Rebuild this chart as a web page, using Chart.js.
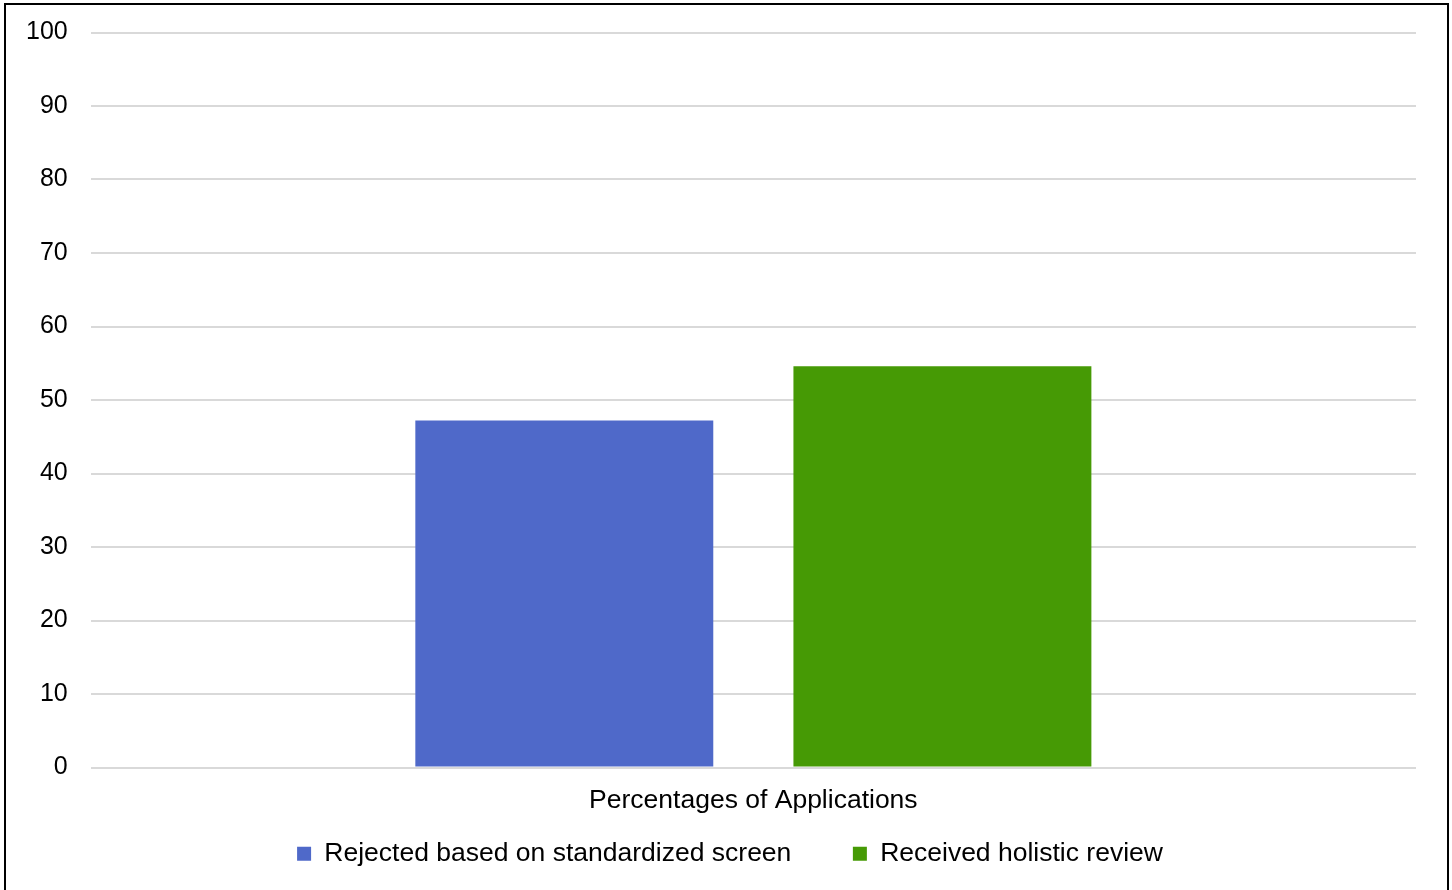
<!DOCTYPE html>
<html>
<head>
<meta charset="utf-8">
<script src="https://cdn.jsdelivr.net/npm/chart.js@4"></script>
<style>
  body { margin: 0; background: #fff; overflow: hidden; }
  #box {
    position: absolute; left: 4px; top: 3px;
    width: 1441px; height: 890px;
    border: 2px solid #000; background: #fff;
    overflow: hidden;
  }
  #chart { display: block; margin-top: -8px; }
</style>
</head>
<body>
<div id="box"><canvas id="chart" width="1441" height="893"></canvas></div>
<script>
// data
var categories = ['Percentages of Applications'];
var seriesNames = ['Rejected based on standardized screen', 'Received holistic review'];
var rejected = [47.2];
var holistic = [54.6];
var yTicks = [0, 10, 20, 30, 40, 50, 60, 70, 80, 90, 100];

Chart.defaults.font.family = 'Arial, "Liberation Sans", sans-serif';
Chart.defaults.font.size = 26.5;
Chart.defaults.color = '#000';

let ctx = document.getElementById('chart').getContext('2d');

// nudge the legend a bit to the right, the original is not centred on the canvas
let legendShift = {
    id: 'legendShift'
    , afterLayout: function (chart) {
        chart.legend.left += 41;
    }
};

let barChart = new Chart(ctx, {
    type: 'bar'
    , data: {
        labels: categories
        , datasets: [{
            label: seriesNames[0]
            , data: rejected
            , backgroundColor: '#4F69C9'
        }, {
            label: seriesNames[1]
            , data: holistic
            , backgroundColor: '#469A05'
        }]
    }
    , options: {
        responsive: false
        , animation: false
        , categoryPercentage: 0.5706
        , barPercentage: 0.788
        , layout: {
            padding: { top: 0, right: 31, left: -3, bottom: 13 }
        }
        , plugins: {
            tooltip: { enabled: false }
            , legend: {
                position: 'bottom'
                , labels: {
                    boxWidth: 14
                    , boxHeight: 14
                    , padding: 10
                    , generateLabels: function (chart) {
                        var items = Chart.defaults.plugins.legend.labels.generateLabels(chart);
                        // extra space after the first entry, like the original
                        items[0].text = items[0].text + '       ';
                        return items;
                    }
                }
            }
        }
        , scales: {
            x: {
                grid: { display: false }
                , border: { display: false }
                , ticks: { padding: 9 }
                , afterFit: function (axis) { axis.height = 63; }
            }
            , y: {
                min: 0
                , max: 100
                , afterBuildTicks: function (axis) {
                    axis.ticks = yTicks.map(function (v) { return { value: v }; });
                }
                , grid: { color: '#D9D9D9', lineWidth: 2, drawTicks: false }
                , border: { display: false }
                , ticks: { padding: 23, font: { size: 25, lineHeight: 1 } }
            }
        }
    }
    , plugins: [legendShift]
});
</script>
</body>
</html>
